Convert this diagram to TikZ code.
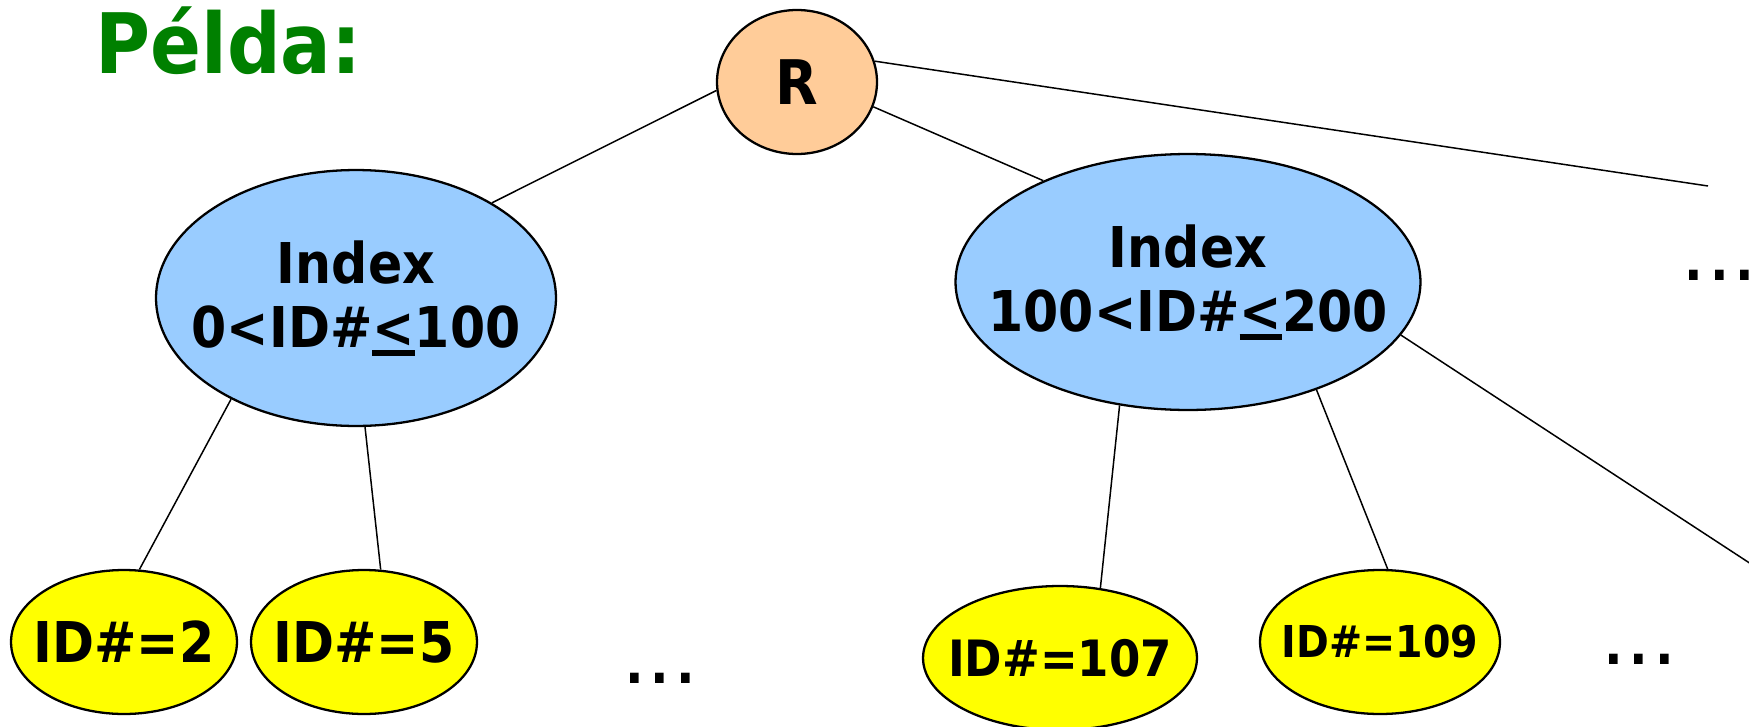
\documentclass[tikz,border=0pt]{standalone}
\usepackage{fontspec}
\setmainfont{DejaVu Sans}[FakeStretch=0.9]
\usetikzlibrary{shapes.geometric}
\definecolor{rootfill}{HTML}{FFCC99}
\definecolor{idxfill}{HTML}{99CCFF}
\definecolor{leaffill}{HTML}{FFFF00}
\definecolor{titlegreen}{HTML}{008000}
\newcommand{\ulless}{\leavevmode\rlap{\rule[-0.15em]{0.754em}{0.09em}}<}
\newcommand{\tdots}{.\kern4pt.\kern4pt.}

\begin{document}
\begin{tikzpicture}[
  x=0.02cm, y=-0.02cm,
  oval/.style={draw, ellipse, line width=1.3pt, inner sep=-1cm, align=center, fill=#1},
  ln/.style={line width=0.85pt},
  dotsnode/.style={font=\fontsize{31}{36}\selectfont\bfseries, inner sep=0pt}
]
\clip (0,0) rectangle (1749,727);

\node[font=\fontsize{47.5}{54}\selectfont\bfseries, text=titlegreen, anchor=base west, inner sep=0pt] (title) at (95,73) {Példa:};

% root
\node[oval=rootfill, minimum width=3.2cm, minimum height=2.88cm, font=\fontsize{35}{40}\selectfont\bfseries] (root) at (797,82) {R};

% index level
\node[oval=idxfill, minimum width=8cm, minimum height=5.12cm, font=\fontsize{32}{36.4}\selectfont\bfseries] (idxA) at (356,298) {Index\\0<ID\#\ulless100};
\node[oval=idxfill, minimum width=9.3cm, minimum height=5.12cm, font=\fontsize{32}{36.4}\selectfont\bfseries] (idxB) at (1188,282) {Index\\100<ID\#\ulless200};

% leaves
\node[oval=leaffill, minimum width=4.52cm, minimum height=2.88cm, font=\fontsize{32}{36}\selectfont\bfseries] (id2) at (124,642) {ID\#=2};
\node[oval=leaffill, minimum width=4.52cm, minimum height=2.88cm, font=\fontsize{32}{36}\selectfont\bfseries] (id5) at (364,642) {ID\#=5};
\node[oval=leaffill, minimum width=5.48cm, minimum height=2.88cm, font=\fontsize{28.5}{33}\selectfont\bfseries] (id107) at (1060,658) {ID\#=107};
\node[oval=leaffill, minimum width=4.8cm, minimum height=2.88cm, font=\fontsize{25}{30}\selectfont\bfseries] (id109) at (1380,642) {ID\#=109};

\node[dotsnode] (dotsA) at (660,678) {\tdots};
\node[dotsnode] (dotsB) at (1639,659) {\tdots};
\node[dotsnode, anchor=west] (dotsC) at (1684,275) {\tdots};

\coordinate (farR) at (1708,186);
\coordinate (farRB) at (1800,596);

% connections
\draw[ln] (root.186) -- (idxA.35);
\draw[ln] (root.-18) -- (idxB.145);
\draw[ln] (root.15) -- (farR);
\draw[ln] (idxA.-141) -- (id2.78);
\draw[ln] (idxA.-86) -- (id5.77);
\draw[ln] (idxB.-119) -- (id107.60);
\draw[ln] (idxB.-40) -- (id109.84);
\draw[ln] (idxB.-14) -- (farRB);

\end{tikzpicture}
\end{document}
